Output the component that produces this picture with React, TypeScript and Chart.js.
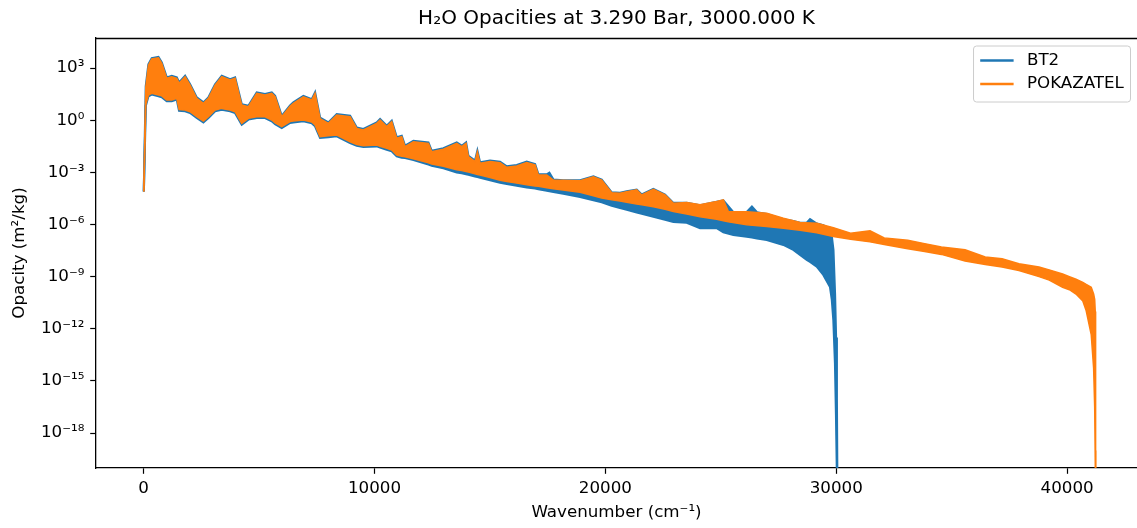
import React, { useEffect, useRef } from "react";
import { Chart, registerables } from "chart.js";

Chart.register(...registerables);

const FONT_FAMILY = "'DejaVu Sans', 'Liberation Sans', sans-serif";
const BT2_COLOR = "#1f77b4";
const POKAZATEL_COLOR = "#ff7f0e";

const seriesNames = ["BT2", "POKAZATEL"];
const chartTitle = "H\u2082O Opacities at 3.290 Bar, 3000.000 K";
const xAxisTitle = "Wavenumber (cm\u207B\u00B9)";
const yAxisTitle = "Opacity (m\u00B2/kg)";

// Envelopes of the (very dense) spectra: upper and lower edge, in log10(m^2/kg)
const pokazatelWavenumber = [
  10, 95, 210, 354, 643, 787, 1003, 1220, 1438, 1538, 1798, 2014, 2302, 2591, 2807, 3097, 3386, 3747, 3963, 4251,
  4540, 4901, 5262, 5551, 5696, 5984, 6345, 6488, 6921, 7284, 7428, 7644, 8005, 8366, 8944, 9232, 9521, 10098, 10243, 10532,
  10748, 10965, 11181, 11326, 11687, 12337, 12480, 12986, 13563, 13780, 13967, 14068, 14356, 14458, 14574, 15007, 15440, 15730, 16163, 16595,
  16956, 17100, 17462, 17750, 18905, 19482, 19843, 20275, 20636, 20926, 21358, 21576, 22080, 22586, 22947, 23526, 24102, 24823, 25112, 25329,
  26125, 26990, 27711, 28434, 29157, 29876, 30621, 31465, 32080, 33098, 33830, 34557, 35580, 36455, 37183, 37914, 38784, 39226, 39806, 40100,
  40386, 40681, 40828, 41045, 41149, 41195, 41220, 41235,
];
const pokazatelUpperLog10 = [
  -4.1, 1.9, 3.17, 3.52, 3.59, 3.27, 2.41, 2.5, 2.41, 2.12, 2.5, 2.02, 1.26, 0.97, 1.26, 2.02, 2.5, 2.31, 2.41, 0.87,
  0.78, 1.55, 1.45, 1.55, 1.35, 0.2, 0.8, 0.97, 1.35, 1.16, 1.55, 0.09, -0.18, 0.3, 0.2, -0.47, -0.56, -0.18, 0.01, -0.37,
  -0.08, -1.04, -0.95, -1.52, -1.24, -1.33, -1.81, -1.67, -1.33, -1.52, -1.33, -2.1, -2.38, -1.81, -2.48, -2.38, -2.44, -2.71, -2.63, -2.44,
  -2.57, -3.15, -3.15, -3.44, -3.48, -3.25, -3.44, -4.17, -4.2, -4.11, -4.01, -4.3, -3.97, -4.3, -4.78, -4.74, -4.87, -4.68, -4.59, -5.26,
  -5.26, -5.35, -5.64, -5.88, -5.93, -6.18, -6.5, -6.36, -6.77, -6.91, -7.1, -7.29, -7.45, -7.87, -7.97, -8.26, -8.45, -8.61, -8.85, -9.0,
  -9.15, -9.33, -9.45, -9.61, -10.0, -10.3, -11.0, -21,
];
const pokazatelLowerLog10 = [
  -4.1, 0.9, 1.45, 1.55, 1.45, 1.4, 1.16, 1.16, 1.26, 0.62, 0.59, 0.49, 0.2, -0.05, 0.2, 0.59, 0.68, 0.59, 0.49, -0.18,
  0.11, 0.2, 0.2, 0.01, -0.15, -0.37, -0.08, -0.05, 0.01, -0.1, -0.28, -0.95, -0.9, -0.85, -1.24, -1.4, -1.47, -1.43, -1.5, -1.62,
  -1.71, -2.0, -2.08, -2.1, -2.22, -2.45, -2.52, -2.65, -2.85, -2.9, -2.95, -2.98, -3.08, -3.12, -3.15, -3.3, -3.45, -3.52, -3.62, -3.72,
  -3.78, -3.8, -3.88, -3.95, -4.15, -4.35, -4.48, -4.58, -4.65, -4.72, -4.82, -4.87, -4.98, -5.12, -5.25, -5.4, -5.55, -5.7, -5.78, -5.85,
  -6.02, -6.12, -6.21, -6.33, -6.47, -6.69, -6.85, -7.0, -7.15, -7.39, -7.55, -7.72, -8.1, -8.3, -8.45, -8.65, -9.0, -9.2, -9.61, -9.75,
  -10.0, -10.4, -10.97, -12.33, -14.26, -16.5, -19.0, -21,
];

const bt2Wavenumber = [
  10, 95, 210, 354, 643, 787, 1003, 1220, 1438, 1538, 1798, 2014, 2302, 2591, 2807, 3097, 3386, 3747, 3963, 4251,
  4540, 4901, 5262, 5551, 5696, 5984, 6345, 6488, 6921, 7284, 7428, 7644, 8005, 8366, 8944, 9232, 9521, 10098, 10243, 10532,
  10748, 10965, 11181, 11326, 11687, 12337, 12480, 12986, 13563, 13780, 13967, 14068, 14356, 14458, 14574, 15007, 15440, 15730, 16163, 16595,
  16956, 17100, 17462, 17576, 17750, 18181, 18905, 19482, 19843, 20275, 20636, 20926, 21358, 21576, 22080, 22586, 22947, 23526, 24102, 24823,
  25112, 25545, 26125, 26348, 26566, 26990, 27711, 28143, 28434, 28723, 28867, 29157, 29443, 29733, 29809, 29878, 29948, 29992, 30027, 30049,
];
const bt2UpperLog10 = [
  -4.1, 1.95, 3.22, 3.57, 3.64, 3.32, 2.46, 2.55, 2.46, 2.17, 2.55, 2.07, 1.31, 1.02, 1.31, 2.07, 2.55, 2.36, 2.46, 0.92,
  0.83, 1.6, 1.5, 1.6, 1.4, 0.25, 0.85, 1.02, 1.4, 1.21, 1.6, 0.14, -0.13, 0.35, 0.25, -0.42, -0.51, -0.13, 0.06, -0.32,
  -0.03, -0.99, -0.9, -1.47, -1.19, -1.28, -1.76, -1.62, -1.28, -1.47, -1.28, -2.05, -2.33, -1.76, -2.43, -2.33, -2.39, -2.66, -2.58, -2.39,
  -2.53, -3.12, -3.12, -3.02, -3.42, -3.46, -3.46, -3.23, -3.42, -4.15, -4.18, -4.09, -3.99, -4.28, -3.95, -4.28, -4.76, -4.75, -4.9, -4.7,
  -4.62, -5.3, -5.28, -4.97, -5.3, -5.4, -5.7, -5.8, -5.9, -5.9, -5.7, -5.95, -6.05, -6.3, -6.7, -7.46, -10.0, -12.5, -16.0, -21,
];
const bt2LowerLog10 = [
  -4.1, 0.83, 1.38, 1.48, 1.38, 1.33, 1.09, 1.09, 1.19, 0.55, 0.52, 0.42, 0.13, -0.12, 0.13, 0.52, 0.61, 0.52, 0.42, -0.25,
  0.04, 0.13, 0.13, -0.06, -0.22, -0.44, -0.15, -0.12, -0.06, -0.17, -0.35, -1.02, -0.97, -0.92, -1.31, -1.47, -1.54, -1.5, -1.57, -1.69,
  -1.78, -2.07, -2.15, -2.17, -2.29, -2.54, -2.61, -2.76, -3.0, -3.05, -3.1, -3.13, -3.23, -3.27, -3.3, -3.45, -3.6, -3.67, -3.77, -3.87,
  -3.93, -3.97, -4.05, -4.08, -4.12, -4.22, -4.42, -4.6, -4.72, -4.92, -5.05, -5.15, -5.3, -5.38, -5.55, -5.72, -5.85, -5.9, -6.21, -6.21,
  -6.45, -6.6, -6.7, -6.75, -6.8, -6.89, -7.17, -7.46, -7.75, -8.03, -8.15, -8.42, -8.9, -9.6, -10.3, -11.5, -14.0, -17.0, -20.0, -21,
];

const yTickExponents = [3, 0, -3, -6, -9, -12, -15, -18];
const xTickValues = [0, 10000, 20000, 30000, 40000];
const xRange = [-2061, 43028];
const yRangeLog10 = [-20.01, 4.73];

const SUPERSCRIPTS: Record<string, string> = {
  "0": "\u2070", "1": "\u00B9", "2": "\u00B2", "3": "\u00B3", "4": "\u2074",
  "5": "\u2075", "6": "\u2076", "7": "\u2077", "8": "\u2078", "9": "\u2079", "-": "\u207B",
};
const toSuperscript = (n: number) =>
  String(n).split("").map((c) => SUPERSCRIPTS[c] || c).join("");

const toPoints = (w: number[], logs: number[]) =>
  w.map((x, i) => ({ x, y: Math.pow(10, logs[i]) }));

const TICK_FONT = { family: FONT_FAMILY, size: 16.7 };

const topSpinePlugin = {
  id: "topSpine",
  afterDraw(chart: any) {
    const { ctx, chartArea } = chart;
    ctx.save();
    ctx.strokeStyle = "#000";
    ctx.lineWidth = 1.3;
    const y = Math.round(chartArea.top) + 0.5;
    ctx.beginPath();
    ctx.moveTo(chartArea.left, y);
    ctx.lineTo(chartArea.right, y);
    ctx.stroke();
    ctx.restore();
  },
};

const legendPlugin = {
  id: "mplLegend",
  afterDraw(chart: any) {
    const { ctx, chartArea } = chart;
    const fs = 16.7;
    const colors = [BT2_COLOR, POKAZATEL_COLOR];
    ctx.save();
    ctx.font = `${fs}px ${FONT_FAMILY}`;
    const textW = Math.max(...seriesNames.map((s) => ctx.measureText(s).width));
    const pad = 0.4 * fs;
    const handle = 2 * fs;
    const handlePad = 0.8 * fs;
    const rowH = 23.5;
    const w = pad + handle + handlePad + textW + pad;
    const h = 56;
    const right = chartArea.right - 6.5;
    const left = right - w;
    const top = chartArea.top + 8;
    const r = 3;
    ctx.beginPath();
    ctx.moveTo(left + r, top);
    ctx.lineTo(right - r, top);
    ctx.arcTo(right, top, right, top + r, r);
    ctx.lineTo(right, top + h - r);
    ctx.arcTo(right, top + h, right - r, top + h, r);
    ctx.lineTo(left + r, top + h);
    ctx.arcTo(left, top + h, left, top + h - r, r);
    ctx.lineTo(left, top + r);
    ctx.arcTo(left, top, left + r, top, r);
    ctx.closePath();
    ctx.fillStyle = "rgba(255,255,255,0.8)";
    ctx.fill();
    ctx.strokeStyle = "#cccccc";
    ctx.lineWidth = 1;
    ctx.stroke();
    seriesNames.forEach((name, i) => {
      const cy = top + 14.5 + i * rowH;
      ctx.strokeStyle = colors[i];
      ctx.lineWidth = 2.5;
      ctx.beginPath();
      ctx.moveTo(left + pad, cy);
      ctx.lineTo(left + pad + handle, cy);
      ctx.stroke();
      ctx.fillStyle = "#000";
      ctx.textBaseline = "middle";
      ctx.textAlign = "left";
      ctx.fillText(name, left + pad + handle + handlePad, cy);
    });
    ctx.restore();
  },
};

export default function App() {
  const canvasRef = useRef<HTMLCanvasElement | null>(null);

  useEffect(() => {
    document.body.style.margin = "0";
    const canvas = canvasRef.current;
    if (!canvas) return;

    const chart = new Chart(canvas, {
      type: "line",
      data: {
        datasets: [
          {
            label: seriesNames[1],
            data: toPoints(pokazatelWavenumber, pokazatelUpperLog10),
            borderColor: POKAZATEL_COLOR,
            backgroundColor: POKAZATEL_COLOR,
            borderWidth: 1.5,
            pointRadius: 0,
            fill: "+1",
            order: 0,
            clip: 0,
          },
          {
            label: seriesNames[1] + " lower",
            data: toPoints(pokazatelWavenumber, pokazatelLowerLog10),
            borderColor: POKAZATEL_COLOR,
            backgroundColor: POKAZATEL_COLOR,
            borderWidth: 1.5,
            pointRadius: 0,
            fill: false,
            order: 0,
            clip: 0,
          },
          {
            label: seriesNames[0],
            data: toPoints(bt2Wavenumber, bt2UpperLog10),
            borderColor: BT2_COLOR,
            backgroundColor: BT2_COLOR,
            borderWidth: 2.2,
            pointRadius: 0,
            fill: "+1",
            order: 1,
            clip: 0,
          },
          {
            label: seriesNames[0] + " lower",
            data: toPoints(bt2Wavenumber, bt2LowerLog10),
            borderColor: BT2_COLOR,
            backgroundColor: BT2_COLOR,
            borderWidth: 2.2,
            pointRadius: 0,
            fill: false,
            order: 1,
            clip: 0,
          },
        ],
      },
      options: {
        animation: false,
        responsive: false,
        events: [],
        layout: { padding: { left: 0, right: 0, top: 0, bottom: 0 } },
        plugins: {
          legend: { display: false },
          tooltip: { enabled: false },
          title: {
            display: true,
            text: chartTitle,
            fullSize: false,
            color: "#000",
            font: { family: FONT_FAMILY, size: 20, weight: "normal" },
            padding: { top: 7, bottom: 7 },
          },
        },
        scales: {
          x: {
            type: "linear",
            min: xRange[0],
            max: xRange[1],
            afterBuildTicks: (scale: any) => {
              scale.ticks = xTickValues.map((v) => ({ value: v }));
            },
            afterFit: (scale: any) => {
              scale.height = 60;
            },
            ticks: {
              color: "#000",
              font: TICK_FONT,
              padding: 5,
              maxRotation: 0,
              autoSkip: false,
              callback: (v: any) => String(v),
            },
            grid: {
              display: true,
              drawOnChartArea: false,
              drawTicks: true,
              tickLength: 5.8,
              tickWidth: 1.2,
              tickColor: "#000",
            },
            border: { display: true, color: "#000", width: 1.3 },
            title: {
              display: true,
              text: xAxisTitle,
              color: "#000",
              font: { family: FONT_FAMILY, size: 16.7 },
              padding: { top: 0, bottom: 5 },
            },
          },
          y: {
            type: "logarithmic",
            min: Math.pow(10, yRangeLog10[0]),
            max: Math.pow(10, yRangeLog10[1]),
            afterBuildTicks: (scale: any) => {
              scale.ticks = yTickExponents.map((e) => ({ value: Math.pow(10, e) }));
            },
            afterFit: (scale: any) => {
              scale.width = 96;
            },
            ticks: {
              color: "#000",
              font: TICK_FONT,
              padding: 5.8,
              autoSkip: false,
              callback: (v: any) => "10" + toSuperscript(Math.round(Math.log10(Number(v)))),
            },
            grid: {
              display: true,
              drawOnChartArea: false,
              drawTicks: true,
              tickLength: 5.8,
              tickWidth: 1.2,
              tickColor: "#000",
            },
            border: { display: true, color: "#000", width: 1.3 },
            title: {
              display: true,
              text: yAxisTitle,
              color: "#000",
              font: { family: FONT_FAMILY, size: 16.7 },
              padding: { top: 10, bottom: 0 },
            },
          },
        },
      },
      plugins: [topSpinePlugin, legendPlugin],
    } as any);

    return () => chart.destroy();
  }, []);

  return (
    <div style={{ width: 1137, height: 528 }}>
      <canvas
        ref={canvasRef}
        width={1137}
        height={528}
        style={{ display: "block", width: 1137, height: 528 }}
      />
    </div>
  );
}
